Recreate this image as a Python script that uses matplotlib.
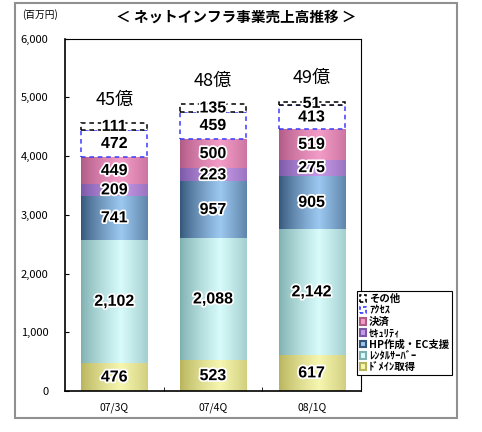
import numpy as np
import matplotlib
matplotlib.use("Agg")
import matplotlib.pyplot as plt
import matplotlib.patheffects as pe
from matplotlib.patches import Patch, Rectangle
from matplotlib.colors import to_rgb

plt.rcParams['font.family'] = ['Noto Sans CJK JP', 'DejaVu Sans']

# data (百万円)
quarters = ["07/3Q", "07/4Q", "08/1Q"]
series = ["ﾄﾞﾒｲﾝ取得", "ﾚﾝﾀﾙｻｰﾊﾞｰ", "HP作成・EC支援", "ｾｷｭﾘﾃｨ", "決済", "ｱｸｾｽ", "その他"]
domain = [476, 523, 617]
rental = [2102, 2088, 2142]
hp_ec = [741, 957, 905]
security = [209, 223, 275]
payment = [449, 500, 519]
access = [472, 459, 413]
other = [111, 135, 51]
total_labels = ["45億", "48億", "49億"]

values = [domain, rental, hp_ec, security, payment, access, other]
# (light, dark) for the cylinder shading, None = white box with dashed edge
shades = [("#f6f6b0", "#b8b45c"),
          ("#d8fbfb", "#7fb0b0"),
          ("#9cc8f0", "#35567a"),
          ("#c89ae6", "#7a58a8"),
          ("#f49cc8", "#b05a86"),
          None, None]
edges = [None, None, None, None, None, "#3a3aff", "black"]

fig = plt.figure(figsize=(4.82, 4.32), dpi=100)
ax = fig.add_axes([65 / 482, 1 - 391 / 432, 296 / 482, 352.5 / 432])

x = np.arange(len(quarters))
bottom = np.zeros(len(quarters))


def shade_img(light, dark, n=64):
    t = np.linspace(0, 1, n)
    prof = np.clip(1 - np.abs(t - 0.6) / 0.6, 0, 1) ** 0.8
    l, d = np.array(to_rgb(light)), np.array(to_rgb(dark))
    img = d[None, :] + (l - d)[None, :] * prof[:, None]
    return img[None, :, :]


for vals, sh, ec in zip(values, shades, edges):
    vals = np.array(vals)
    if sh is None:
        bars = ax.bar(x, vals, 0.67, bottom=bottom, color="white",
                      edgecolor=ec, linewidth=1.1, linestyle=(0, (3, 2.5)), zorder=3)
    else:
        bars = ax.bar(x, vals, 0.67, bottom=bottom, color=sh[1], linewidth=0, zorder=2)
        for p in bars.patches:
            im = ax.imshow(shade_img(*sh), extent=(p.get_x(), p.get_x() + p.get_width(),
                                                   p.get_y(), p.get_y() + p.get_height()),
                           aspect="auto", zorder=2.5)
            im.set_clip_path(p)
    for xi, b, v in zip(x, bottom, vals):
        ax.text(xi, b + v / 2, f"{v:,}", ha="center", va="center", fontsize=11.5,
                fontweight="bold", family=["Liberation Sans"], zorder=5,
                path_effects=[pe.withStroke(linewidth=2.5, foreground="white")])
    bottom = bottom + vals

for xi, tot, lab in zip(x, bottom, total_labels):
    ax.text(xi, tot + 400, lab, ha="center", va="center", fontsize=13, zorder=5)

ax.set_xlim(-0.5, 2.5)
ax.set_ylim(0, 6000)
ax.set_yticks(np.arange(0, 6001, 1000))
ax.set_yticklabels([f"{v:,}" for v in range(0, 6001, 1000)], fontsize=8)
ax.set_xticks(x)
ax.set_xticklabels(quarters, fontsize=7.5)
ax.set_xticks([0.5, 1.5], minor=True)
ax.tick_params(axis="x", which="major", length=0, pad=8)
ax.tick_params(axis="x", which="minor", direction="in", length=3)
ax.tick_params(axis="y", direction="in", length=3, pad=12)
for s in ax.spines.values():
    s.set_linewidth(0.8)
ax.spines["left"].set_linewidth(1.2)
ax.spines["bottom"].set_linewidth(1.2)

# legend, top entry first
handles = []
for sh, ec in zip(shades, edges):
    if sh is None:
        handles.append(Patch(facecolor="white", edgecolor=ec, linestyle=(0, (2, 1.5)), linewidth=1.2))
    else:
        handles.append(Patch(facecolor=sh[0], edgecolor=sh[1], linewidth=1.5))
leg = fig.legend(handles[::-1], series[::-1], loc="upper left",
                 bbox_to_anchor=(357 / 482, 1 - 291 / 432), fontsize=7.5,
                 frameon=True, fancybox=False, edgecolor="black", framealpha=1,
                 handlelength=0.6, handleheight=0.6, handletextpad=0.25,
                 labelspacing=0.12, borderpad=0.3, borderaxespad=0)
leg.get_frame().set_linewidth(0.8)
for t in leg.get_texts():
    t.set_fontweight("bold")

fig.text(236 / 482, 1 - 17 / 432, "＜ ネットインフラ事業売上高推移 ＞", ha="center", va="center",
         fontsize=10.5, fontweight="bold")
fig.text(22 / 482, 1 - 15 / 432, "(百万円)", ha="left", va="center", fontsize=7)

fig.patches.append(Rectangle((15 / 482, 1 - 418 / 432), 442 / 482, 415 / 432,
                             transform=fig.transFigure, fill=False, edgecolor="#909090",
                             linewidth=1.5))

fig.savefig("out.png", dpi=100)
